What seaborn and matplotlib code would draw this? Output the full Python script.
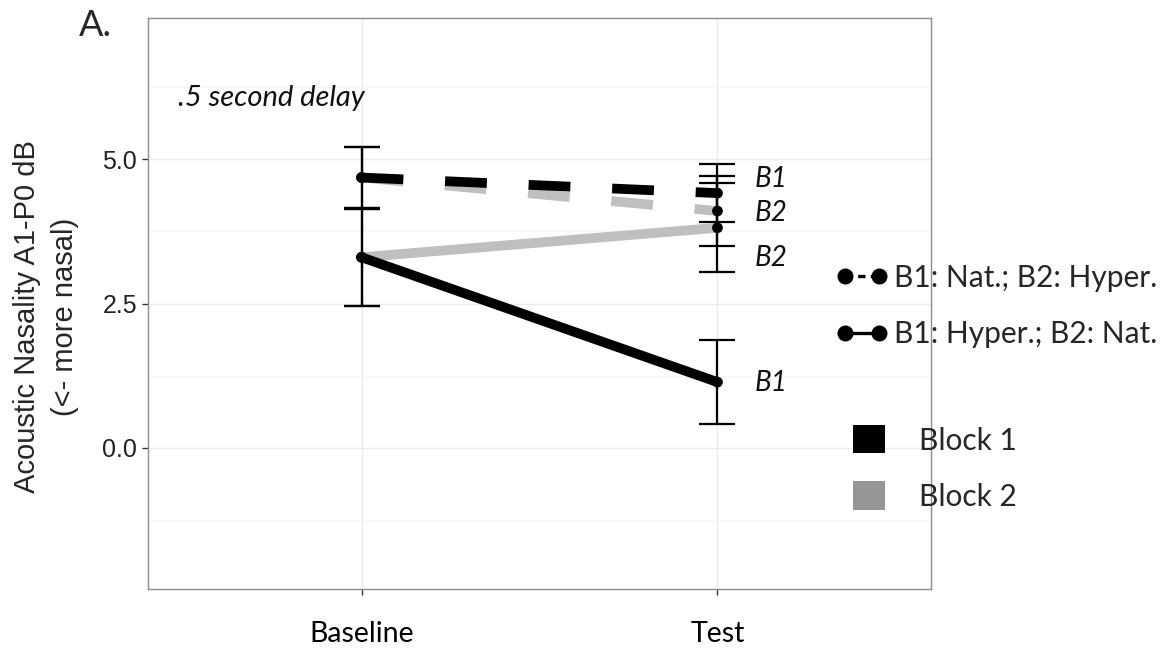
import numpy as np
import pandas as pd
import matplotlib
matplotlib.use("Agg")
import matplotlib.pyplot as plt
import seaborn as sns
from matplotlib.lines import Line2D
from matplotlib.patches import Patch

# ---------------- data ----------------
phases = ["Baseline", "Test"]
orders = ["B1: Nat.; B2: Hyper.", "B1: Hyper.; B2: Nat."]
blocks = ["Block 1", "Block 2"]

# means (dB) per order x block at Baseline / Test
nat_hyper_b1 = [4.68, 4.41]
nat_hyper_b2 = [4.68, 4.10]
hyper_nat_b1 = [3.30, 1.14]
hyper_nat_b2 = [3.30, 3.81]
# error bar half-widths
nat_hyper_b1_err = [0.52, 0.50]
nat_hyper_b2_err = [0.52, 0.61]
hyper_nat_b1_err = [0.84, 0.72]
hyper_nat_b2_err = [0.84, 0.77]

# annotation labels at the Test end
end_labels = ["B1", "B2", "B2", "B1"]
end_label_y = [4.65, 4.06, 3.28, 1.12]

y_ticks = [0.0, 2.5, 5.0]
y_tick_labels = ["0.0", "2.5", "5.0"]
y_minor = [-1.25, 1.25, 3.75, 6.25]

rows = []
for order, block, vals, errs in [
    (orders[0], blocks[1], nat_hyper_b2, nat_hyper_b2_err),
    (orders[1], blocks[1], hyper_nat_b2, hyper_nat_b2_err),
    (orders[0], blocks[0], nat_hyper_b1, nat_hyper_b1_err),
    (orders[1], blocks[0], hyper_nat_b1, hyper_nat_b1_err),
]:
    for p, v, e in zip(phases, vals, errs):
        rows.append(dict(phase=p, order=order, block=block, value=v, err=e))
df = pd.DataFrame(rows)

# ---------------- figure ----------------
sns.set_theme(style="white")
plt.rcParams["font.family"] = ["Lato", "DejaVu Sans"]

fig = plt.figure(figsize=(11.75, 6.5), dpi=100)
ax = fig.add_axes([148 / 1175, 1 - 589 / 650, (931 - 148) / 1175, (589 - 18) / 650])

line_colors = {"Block 1": "black", "Block 2": "#bfbfbf"}
sns.lineplot(
    data=df, x="phase", y="value", hue="block", style="order",
    hue_order=["Block 2", "Block 1"], style_order=orders,
    palette=line_colors,
    dashes={orders[0]: (4.3, 4.3), orders[1]: ""},
    linewidth=7, sort=False, legend=False, ax=ax,
    estimator=None, errorbar=None,
)
for ln in ax.lines:
    ln.set_solid_capstyle("butt")
    ln.set_dash_capstyle("butt")
    ln.set_zorder(3)

# error bars
xpos = df["phase"].map({p: i for i, p in enumerate(phases)})
ax.errorbar(xpos, df["value"], yerr=df["err"], fmt="none", ecolor="black",
            elinewidth=1.6, capsize=13, capthick=1.6, zorder=4)

# points
sns.scatterplot(data=df, x="phase", y="value", color="black", s=60,
                edgecolor="none", legend=False, ax=ax, zorder=5)

# end labels
for lab, yv in zip(end_labels, end_label_y):
    ax.text(1.105, yv, lab, fontsize=20, style="italic", ha="left", va="center",
            color="#111111")

ax.text(-0.515, 6.05, ".5 second delay", fontsize=21, style="italic",
        ha="left", va="center", color="#111111")

# axes styling
ax.set_xlim(-0.6, 1.6)
ax.set_ylim(-2.44, 7.44)
ax.set_yticks(y_ticks)
ax.set_yticklabels(y_tick_labels, fontfamily="Liberation Sans", fontsize=18, color="#222222")
ax.set_yticks(y_minor, minor=True)
ax.set_xticks(range(len(phases)))
ax.set_xticklabels(phases, fontsize=20.5, color="black")
ax.set_xlabel("")
ax.set_ylabel("")
ax.grid(True, which="major", color="#ebebeb", linewidth=1.0, zorder=0)
ax.grid(True, which="minor", axis="y", color="#f5f5f5", linewidth=0.8, zorder=0)
ax.set_axisbelow(True)
for sp in ax.spines.values():
    sp.set_color("#8c8c8c")
    sp.set_linewidth(1.0)
ax.tick_params(axis="both", which="major", length=4, width=1, color="#333333",
               direction="out", left=True, bottom=True)
ax.tick_params(axis="x", pad=19)
ax.tick_params(axis="y", pad=4)
ax.tick_params(which="minor", length=0)

fig.text(46 / 1175, 1 - 317 / 650, "Acoustic Nasality A1-P0 dB\n(<- more nasal)",
         rotation=90, ha="center", va="center", multialignment="center",
         fontfamily="Liberation Sans", fontsize=21, linespacing=1.45)

fig.text(79 / 1175, 1 - 25 / 650, "A.", fontsize=26, ha="left", va="center")

# legends
h1 = [
    Line2D([], [], color="black", lw=2.4, ls=(0, (2.2, 1.6)), marker="o",
           markersize=10.5, markerfacecolor="black", markeredgecolor="black"),
    Line2D([], [], color="black", lw=2.4, ls="-", marker="o",
           markersize=10.5, markerfacecolor="black", markeredgecolor="black"),
]
leg1 = fig.legend(h1, orders, loc="center left", bbox_to_anchor=(836 / 1175, 1 - 306 / 650),
                  frameon=False, fontsize=21.5, numpoints=2, handlelength=1.75,
                  handletextpad=0.2, labelspacing=0.95, borderpad=0, borderaxespad=0)
h2 = [Patch(facecolor="black", edgecolor="none"),
      Patch(facecolor="#969696", edgecolor="none")]
leg2 = fig.legend(h2, blocks, loc="center left", bbox_to_anchor=(853 / 1175, 1 - 468 / 650),
                  frameon=False, fontsize=21.5, handlelength=1.07, handleheight=1.07,
                  handletextpad=1.15, labelspacing=0.9, borderpad=0, borderaxespad=0)

fig.savefig("out.png", dpi=100, facecolor="white")
